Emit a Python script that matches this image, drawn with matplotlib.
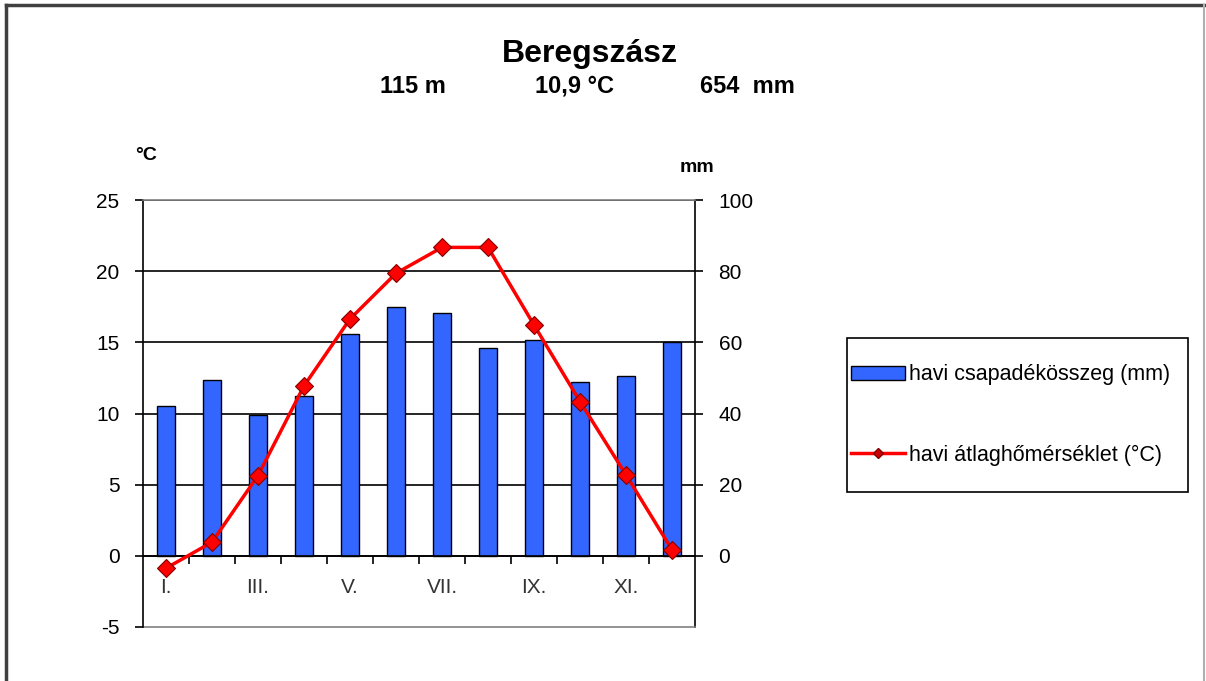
import matplotlib
matplotlib.use("Agg")
import matplotlib.pyplot as plt
from matplotlib.lines import Line2D
from matplotlib.patches import Rectangle, Patch
import numpy as np

plt.rcParams['font.family'] = ['Liberation Sans', 'DejaVu Sans']
plt.rcParams['axes.unicode_minus'] = False

months = ["I.", "II.", "III.", "IV.", "V.", "VI.", "VII.", "VIII.", "IX.", "X.", "XI.", "XII."]
month_labels = ["I.", "", "III.", "", "V.", "", "VII.", "", "IX.", "", "XI.", ""]
precip_mm = [42.1, 49.4, 39.6, 45.0, 62.3, 70.0, 68.3, 58.3, 60.7, 48.8, 50.4, 60.0]
temp_c = [-0.87, 0.96, 5.64, 11.94, 16.64, 19.85, 21.67, 21.67, 16.22, 10.84, 5.69, 0.42]
left_ticks = [-5, 0, 5, 10, 15, 20, 25]
right_ticks = [0, 20, 40, 60, 80, 100]

title = "Beregszász"
sub_alt = "115 m"
sub_temp = "10,9 °C"
sub_prec = "654  mm"

W, H = 1206, 681
fig = plt.figure(figsize=(W / 100, H / 100), dpi=100)
fig.patch.set_facecolor('white')

ax_l = 143 / W
ax_r = 695 / W
ax_t = 1 - 200 / H
ax_b = 1 - 627 / H
ax = fig.add_axes([ax_l, ax_b, ax_r - ax_l, ax_t - ax_b])
ax2 = ax.twinx()

x = np.arange(len(months))

# bars on right axis (mm)
ax2.bar(x, precip_mm, width=0.4, color='#3366FF', edgecolor='black', linewidth=1.0, zorder=3)
ax2.set_ylim(-20, 100)
ax2.set_yticks(right_ticks)
ax2.set_axisbelow(True)
ax2.yaxis.grid(True, color='black', linewidth=1.2)
ax2.tick_params(axis='y', direction='out', length=6, width=1.2, pad=11, labelsize=15, colors='black')
for sp in ['top', 'bottom', 'left']:
    ax2.spines[sp].set_visible(False)
ax2.spines['right'].set_linewidth(1.2)

# temperature on left axis
ax.set_zorder(ax2.get_zorder() + 1)
ax.patch.set_visible(False)
ax.plot(x, temp_c, color='#FF0000', linewidth=2.5, marker='D', markersize=9,
        markerfacecolor='#FF0000', markeredgecolor='#800000', markeredgewidth=0.8, zorder=5, clip_on=False)
ax.set_ylim(-5, 25)
ax.set_xlim(-0.5, len(months) - 0.5)
ax.set_yticks(left_ticks)
ax.tick_params(axis='y', direction='out', length=6, width=1.2, pad=11, labelsize=15, colors='black')

ax.spines['bottom'].set_position(('data', 0))
ax.spines['bottom'].set_linewidth(1.2)
ax.spines['left'].set_linewidth(1.2)
ax.spines['right'].set_visible(False)
ax.spines['top'].set_color('#808080')
ax.spines['top'].set_linewidth(1.2)
ax.axhline(-5, color='#808080', linewidth=1.2, clip_on=False, zorder=1)

ax.set_xticks(x)
ax.set_xticklabels(month_labels)
ax.set_xticks(np.arange(0.5, len(months) - 1, 1.0), minor=True)
ax.tick_params(axis='x', which='major', length=0, pad=16, labelsize=15, colors='#333333')
ax.tick_params(axis='x', which='minor', direction='out', length=6, width=1.2)

# titles
fig.text(590 / W, 1 - 62 / H, title, ha='center', va='baseline', fontsize=23, fontweight='bold')
sub_family = ['Liberation Sans Narrow', 'Liberation Sans', 'DejaVu Sans']
fig.text(380 / W, 1 - 93 / H, sub_alt, ha='left', va='baseline', fontsize=17, fontweight='bold', family=sub_family)
fig.text(535 / W, 1 - 93 / H, sub_temp, ha='left', va='baseline', fontsize=17, fontweight='bold', family=sub_family)
fig.text(700 / W, 1 - 93 / H, sub_prec, ha='left', va='baseline', fontsize=17, fontweight='bold', family=sub_family)

fig.text(135 / W, 1 - 160 / H, "°C", ha='left', va='baseline', fontsize=14, fontweight='bold')
fig.text(680 / W, 1 - 172 / H, "mm", ha='left', va='baseline', fontsize=14, fontweight='bold')

# legend box
lx0, lx1 = 847 / W, 1188 / W
ly0, ly1 = 1 - 492 / H, 1 - 338 / H
fig.patches.append(Rectangle((lx0, ly0), lx1 - lx0, ly1 - ly0, transform=fig.transFigure,
                             fill=False, edgecolor='black', linewidth=1.2))
handles = [Patch(facecolor='#3366FF', edgecolor='black', linewidth=1.0),
           Line2D([], [], color='#FF0000', linewidth=2.5, marker='D', markersize=5,
                  markerfacecolor='#CC0000', markeredgecolor='#800000')]
labels = ["havi csapadékösszeg (mm)", "havi átlaghőmérséklet (°C)"]
fig.legend(handles, labels, loc='center left', bbox_to_anchor=(851 / W, (ly0 + ly1) / 2),
           frameon=False, fontsize=15.5, handlelength=2.5, handleheight=0.65,
           handletextpad=0.2, labelspacing=2.75, borderpad=0, borderaxespad=0)

# outer border
fig.add_artist(Line2D([6 / W, 6 / W], [0, 1 - 5 / H], transform=fig.transFigure, color='#404040', linewidth=2.5))
fig.add_artist(Line2D([6 / W, 1204 / W], [1 - 5 / H, 1 - 5 / H], transform=fig.transFigure, color='#404040', linewidth=2.5))
fig.add_artist(Line2D([1204 / W, 1204 / W], [0, 1 - 5 / H], transform=fig.transFigure, color='#B0B0B0', linewidth=1.5))

fig.savefig("out.png", dpi=100)
